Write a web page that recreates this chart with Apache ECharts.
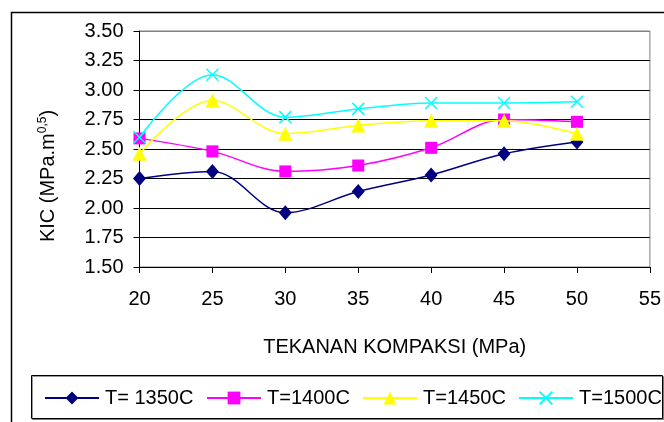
<!DOCTYPE html>
<html>
<head>
<meta charset="utf-8">
<script src="https://cdn.jsdelivr.net/npm/echarts@6/dist/echarts.min.js"></script>
<style>html,body{margin:0;padding:0;background:#fff}#c{width:664px;height:422px}</style>
</head>
<body>
<div id="c"></div>
<script>
const xValues = [20, 25, 30, 35, 40, 45, 50];
const seriesNames = ['T= 1350C', 'T=1400C', 'T=1450C', 'T=1500C'];
const t1350 = [2.25, 2.31, 1.96, 2.14, 2.28, 2.46, 2.56];
const t1400 = [2.59, 2.48, 2.31, 2.36, 2.51, 2.75, 2.73];
const t1450 = [2.46, 2.91, 2.63, 2.70, 2.74, 2.74, 2.63];
const t1500 = [2.60, 3.13, 2.77, 2.84, 2.89, 2.89, 2.90];
const xTitle = 'TEKANAN KOMPAKSI (MPa)';
const yTitleMain = 'KIC (MPa.m';
const yTitleSup = '0,5';

const FONT = "'Liberation Sans', Arial, sans-serif";
const chart = echarts.init(document.getElementById('c'), null, {renderer: 'canvas'});

function pairs(arr) { return xValues.map((x, i) => [x, arr[i]]); }

const styles = [
  {color: '#000080', symbol: 'diamond', size: [13, 15]},
  {color: '#FF00FF', symbol: 'rect', size: 12},
  {color: '#FFFF00', symbol: 'triangle', size: [14, 14]},
  {color: '#00FFFF', symbol: 'path://M0,0L10,10M10,0L0,10', size: 12}
];
const datas = [t1350, t1400, t1450, t1500];

const series = seriesNames.map((name, i) => ({
  name: name,
  type: 'line',
  data: pairs(datas[i]),
  smooth: 0.35,
  symbol: styles[i].symbol,
  symbolSize: styles[i].size,
  showAllSymbol: true,
  lineStyle: {color: styles[i].color, width: 1.5},
  itemStyle: i === 3
    ? {color: styles[i].color, borderColor: styles[i].color, borderWidth: 1.5}
    : {color: styles[i].color, borderWidth: 0},
  emphasis: {disabled: true},
  z: 3 + i
}));

const legendLefts = [39, 201, 357, 513];
const legends = seriesNames.map((name, i) => ({
  data: [name],
  left: legendLefts[i],
  top: 383,
  itemWidth: 54,
  itemHeight: 16,
  itemGap: 0,
  textStyle: {fontFamily: FONT, fontSize: 20, color: '#000', padding: [0, 0, 0, 1]},
  selectedMode: false
}));

const splitColors = ['#000','#000','#000','#000','#000','#000','#000','#000','#808080'];

chart.setOption({
  animation: false,
  backgroundColor: '#fff',
  grid: {left: 139.5, right: 10.5, top: 31, bottom: 155, show: true, borderColor: '#808080', borderWidth: 1, backgroundColor: 'transparent'},
  legend: legends,
  xAxis: {
    type: 'value', min: 20, max: 55, interval: 5,
    name: xTitle, nameLocation: 'middle', nameGap: 70,
    nameTextStyle: {fontFamily: FONT, fontSize: 20, color: '#000', letterSpacing: -0.4},
    axisLine: {lineStyle: {color: '#000', width: 1}},
    axisTick: {show: true, inside: false, length: 6, lineStyle: {color: '#000'}},
    axisLabel: {fontFamily: FONT, fontSize: 20, color: '#000', margin: 22},
    splitLine: {show: false}
  },
  yAxis: {
    type: 'value', min: 1.5, max: 3.5, interval: 0.25,
    axisLine: {show: true, lineStyle: {color: '#000', width: 1}},
    axisTick: {show: true, inside: false, length: 6, lineStyle: {color: '#000'}},
    axisLabel: {fontFamily: FONT, fontSize: 20, color: '#000', margin: 16, formatter: v => v.toFixed(2)},
    splitLine: {show: true, lineStyle: {color: splitColors, width: 1}}
  },
  graphic: [
    {type: 'rect', z: -10, shape: {x: 11.5, y: 12.5, width: 700, height: 500}, style: {fill: 'none', stroke: '#000', lineWidth: 1.5}},
    {type: 'rect', z: -5, shape: {x: 31.5, y: 375.5, width: 631, height: 43}, style: {fill: '#fff', stroke: '#000', lineWidth: 1, shadowColor: 'rgba(0,0,0,0.4)', shadowOffsetX: 1, shadowOffsetY: 1}},
    {type: 'text', x: 48, y: 176, rotation: Math.PI / 2,
      style: {
        text: '{m|' + yTitleMain + '}{s|' + yTitleSup + '}{m|)}',
        align: 'center', verticalAlign: 'middle',
        rich: {
          m: {fontFamily: FONT, fontSize: 20, fill: '#000'},
          s: {fontFamily: FONT, fontSize: 12, fill: '#000', verticalAlign: 'top', padding: [0, 0, 10, 0]}
        }
      }
    }
  ],
  series: series
});
</script>
</body>
</html>
